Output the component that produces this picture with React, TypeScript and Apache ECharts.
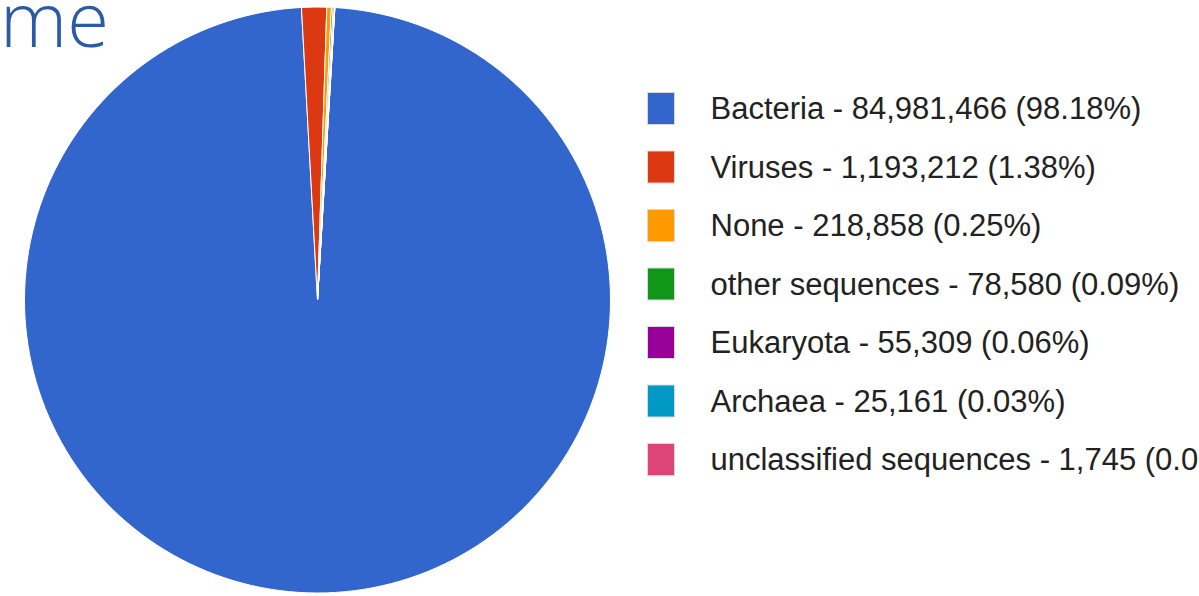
import React, { useEffect, useRef } from "react";
import * as echarts from "echarts";

const categories = [
  "Bacteria",
  "Viruses",
  "None",
  "other sequences",
  "Eukaryota",
  "Archaea",
  "unclassified sequences",
];
const counts = [84981466, 1193212, 218858, 78580, 55309, 25161, 1745];
const sliceColors = ["#3366CC", "#DC3912", "#FF9900", "#109618", "#990099", "#0099C6", "#DD4477"];
const titleFragment = "me";

export default function App() {
  const ref = useRef<HTMLDivElement>(null);
  useEffect(() => {
    if (!ref.current) return;
    const chart = echarts.init(ref.current, null, { renderer: "svg" });
    const total = counts.reduce((a, b) => a + b, 0);
    const lookup: Record<string, number> = {};
    categories.forEach((c, i) => (lookup[c] = counts[i]));
    chart.setOption({
      animation: false,
      backgroundColor: "#ffffff",
      color: sliceColors,
      graphic: [
        {
          type: "text",
          x: 0,
          y: 17,
          style: {
            text: titleFragment,
            align: "left",
            verticalAlign: "middle",
            font: "300 76px 'Open Sans', 'Lato', sans-serif",
            fill: "#2B5BA6",
          },
        },
      ],
      legend: {
        orient: "vertical",
        left: 642,
        top: 87,
        icon: "rect",
        itemWidth: 27,
        itemHeight: 32,
        itemGap: 25.5,
        selectedMode: false,
        itemStyle: { borderColor: "#d8d8d8", borderWidth: 1 },
        textStyle: {
          fontFamily: "'Liberation Sans', Arial, sans-serif",
          fontSize: 31,
          color: "#222222",
          lineHeight: 32,
          padding: [0, 0, 0, 31],
        },
        formatter: (name: string) => {
          const v = lookup[name];
          const pct = ((v / total) * 100).toFixed(2);
          return `${name} - ${v.toLocaleString("en-US")} (${pct}%)`;
        },
        data: categories,
      },
      series: [
        {
          type: "pie",
          center: [317.5, 300],
          radius: 293,
          startAngle: 86.6,
          clockwise: true,
          label: { show: false },
          labelLine: { show: false },
          emphasis: { disabled: true },
          itemStyle: { borderColor: "#ffffff", borderWidth: 1 },
          data: categories.map((c, i) => ({ name: c, value: counts[i] })),
        },
      ],
    });
    return () => chart.dispose();
  }, []);
  return (
    <div
      ref={ref}
      style={{ position: "fixed", left: 0, top: 0, width: 1199, height: 596 }}
    />
  );
}
